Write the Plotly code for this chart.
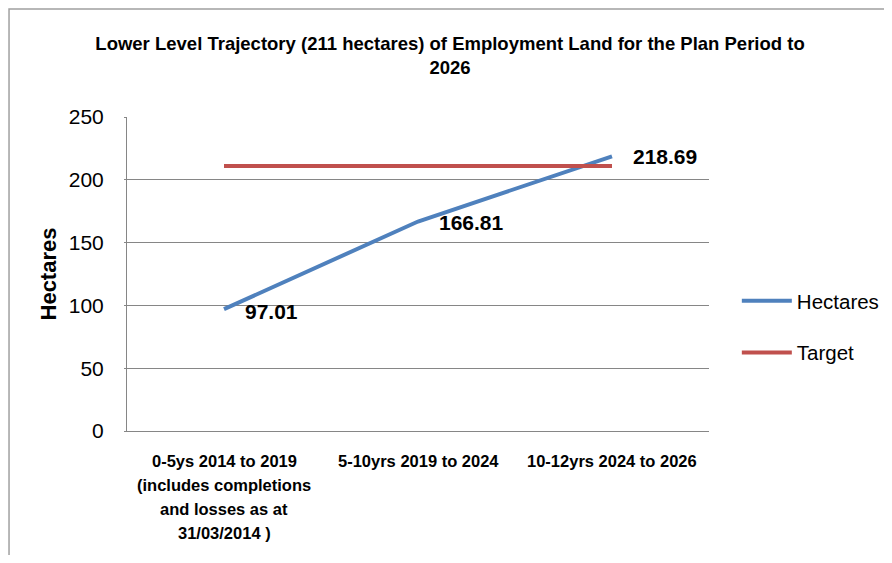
import plotly.graph_objects as go

categories = ["0-5ys 2014 to 2019<br>(includes completions<br>and losses as at<br>31/03/2014 )",
              "5-10yrs 2019 to 2024",
              "10-12yrs 2024 to 2026"]
hectares = [97.01, 166.81, 218.69]
target = [211, 211, 211]
label_yshift = [-2, -1, 0]

FONT = "Liberation Sans, Arial"

fig = go.Figure()
fig.add_trace(go.Scatter(
    x=categories, y=hectares, name="Hectares", mode="lines",
    line=dict(color="#4F81BD", width=4),
    legendgroup="a",
))
fig.add_trace(go.Scatter(
    x=categories, y=target, name="Target", mode="lines",
    line=dict(color="#C0504D", width=4),
    legendgroup="b",
))

annotations = []
for c, v, ys in zip(categories, hectares, label_yshift):
    annotations.append(dict(
        x=c, y=v, xref="x", yref="y", text=f"<b>{v:.2f}</b>", showarrow=False,
        xanchor="left", yanchor="middle", xshift=19, yshift=ys,
        font=dict(size=21, family=FONT, color="black"),
    ))

# category labels, one annotation per line (Excel-like line spacing)
for c in categories:
    for i, line in enumerate(c.split("<br>")):
        annotations.append(dict(
            x=c, y=0, xref="x", yref="paper", text=f"<b>{line}</b>", showarrow=False,
            xanchor="center", yanchor="middle", yshift=-(30 + 24 * i),
            font=dict(size=16.5, family=FONT, color="black"),
        ))

fig.update_layout(
    width=876, height=547,
    margin=dict(l=119, r=175, t=109, b=124, autoexpand=False),
    paper_bgcolor="white", plot_bgcolor="white",
    font=dict(family=FONT, color="black"),
    title=dict(
        text="<b>Lower Level Trajectory (211 hectares) of Employment Land for the Plan Period to<br>2026</b>",
        x=0.5046, xanchor="center", xref="container", y=0.924, yanchor="middle", yref="container",
        font=dict(size=18.5, family=FONT, color="black"),
    ),
    showlegend=True,
    legend=dict(x=0.832, y=0.4168, xref="container", yref="container",
                xanchor="left", yanchor="middle",
                font=dict(size=20.5, family=FONT, color="black"),
                tracegroupgap=22, itemwidth=50),
    xaxis=dict(
        type="category", range=[-0.5, 2.5],
        showline=True, linecolor="#868686", linewidth=1,
        ticks="", showgrid=False, showticklabels=False,
    ),
    yaxis=dict(
        range=[0, 250], dtick=50,
        showline=True, linecolor="#868686", linewidth=1,
        showgrid=True, gridcolor="#868686", gridwidth=1,
        ticks="outside", ticklen=2, tickcolor="#868686", ticklabelstandoff=16,
        tickfont=dict(size=21, family=FONT, color="black"),
        title=dict(text="<b>Hectares</b>", font=dict(size=22, family=FONT, color="black"), standoff=6),
        zeroline=False,
    ),
    annotations=annotations,
    shapes=[dict(type="rect", xref="paper", yref="paper",
                 x0=-0.2027, y0=-1, x1=2, y1=1.344,
                 line=dict(color="#A0A0A0", width=1.5), fillcolor="rgba(0,0,0,0)", layer="below")],
)

fig.write_html("out.html")
